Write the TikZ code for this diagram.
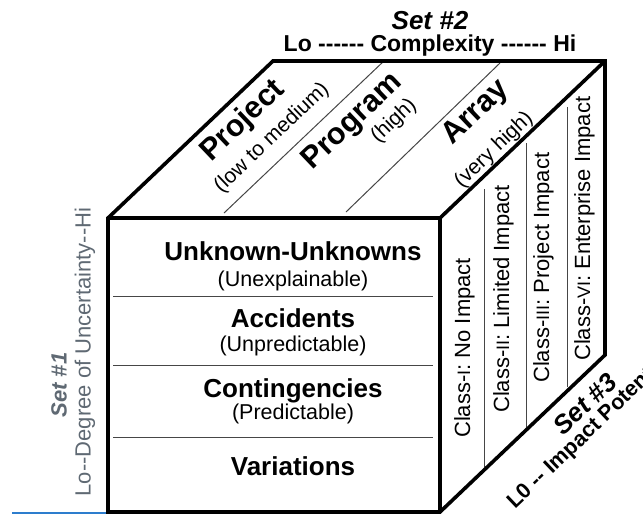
\documentclass[tikz,border=0pt]{standalone}
\usepackage{fontspec}
\setmainfont{Liberation Sans}
\definecolor{setgray}{RGB}{95,105,115}
\definecolor{rulegray}{RGB}{70,70,70}
\definecolor{underblue}{RGB}{45,125,205}
% smaller roman numerals inside the class labels
\newcommand\rnum[1]{{\fontsize{18}{18}\selectfont #1}}
\begin{document}
\begin{tikzpicture}[x=1pt,y=-1pt,
  edge/.style={line width=3.6pt, line join=miter},
  divline/.style={line width=1pt, draw=rulegray},
  headtxt/.style={font=\fontsize{26}{30}\selectfont\bfseries, inner sep=0pt},
  subtxt/.style={font=\fontsize{21.5}{26}\selectfont, inner sep=0pt},
  toptxt/.style={font=\fontsize{30.5}{34}\selectfont\bfseries, rotate=43.6, inner sep=0pt},
  topsub/.style={font=\fontsize{21}{26}\selectfont, rotate=43.6, inner sep=0pt},
  classtxt/.style={font=\fontsize{22}{26}\selectfont, rotate=90, anchor=base west, inner sep=0pt},
  settxt/.style={font=\fontsize{26}{30}\selectfont\bfseries\itshape, inner sep=0pt}
]
\useasboundingbox (0,0) rectangle (643,515);
\clip (0,0) rectangle (643,515);

% underline at the lower left
\draw[underblue, line width=2.5pt] (12,513) -- (107,513);

% cube corners
\coordinate (ftl) at (108,218);
\coordinate (ftr) at (440,218);
\coordinate (fbl) at (108,512);
\coordinate (fbr) at (440,512);
\coordinate (btl) at (273,61);
\coordinate (btr) at (605,61);
\coordinate (bbr) at (605,355);

% front face dividers
\draw[divline] (113,296) -- (433,296);
\draw[divline] (113,365) -- (433,365);
\draw[divline] (113,437) -- (433,437);

% top face dividers
\draw[divline] (224,213) -- (385,60);
\draw[divline] (346,212) -- (500,63);

% side face dividers
\draw[divline] (484,189) -- (484,467);
\draw[divline] (526,143) -- (526,427);
\draw[divline] (567,107) -- (567,387);

% cube outline
\draw[edge] (ftl) -- (btl) -- (btr) -- (bbr) -- (fbr) -- (fbl) -- cycle;
\draw[edge] (ftl) -- (ftr) -- (btr);
\draw[edge] (ftr) -- (fbr);

% front face: uncertainty levels
\node[headtxt, anchor=base] (uu)   at (293,260) {Unknown-Unknowns};
\node[subtxt,  anchor=base] (uuS)  at (293,286) {(Unexplainable)};
\node[headtxt, anchor=base] (acc)  at (293,327) {Accidents};
\node[subtxt,  anchor=base] (accS) at (293,351) {(Unpredictable)};
\node[headtxt, anchor=base] (con)  at (293,397) {Contingencies};
\node[subtxt,  anchor=base] (conS) at (293,419) {(Predictable)};
\node[headtxt, anchor=base] (var)  at (293,475) {Variations};

% top face: complexity levels
\node[toptxt] (proj)  at (243,121) {Project};
\node[topsub] (projS) at (272,138) {(low to medium)};
\node[toptxt] (prog)  at (353,122) {Program};
\node[topsub] (progS) at (394,121) {(high)};
\node[toptxt] (arr)   at (476,113) {Array};
\node[topsub] (arrS)  at (494,150) {(very high)};

% side face: impact classes
\node[classtxt] (c1) at (470,438) {Class-\rnum{I}: No Impact};
\node[classtxt] (c2) at (509,413) {Class-\rnum{II}: Limited Impact};
\node[classtxt] (c3) at (549,383) {Class-\rnum{III}: Project Impact};
\node[classtxt] (c4) at (590,361) {Class-\rnum{VI}: Enterprise Impact};

% set captions
\node[settxt] (s2) at (430,21) {Set \#2};
\node[font=\fontsize{23}{26}\selectfont\bfseries, inner sep=0pt] (s2t) at (430,46)
  {Lo -{}-{}-{}-{}-{}- Complexity -{}-{}-{}-{}-{}- Hi};

\node[settxt, font=\fontsize{22}{26}\selectfont\bfseries\itshape, text=setgray, rotate=90] (s1) at (59,385) {Set \#1};
\node[font=\fontsize{22}{26}\selectfont, text=setgray, rotate=90, inner sep=0pt] (s1t) at (85,352)
  {Lo-{}-Degree of Uncertainty-{}-Hi};

\node[settxt, rotate=43.6] (s3) at (585,404) {Set \#3};
\node[font=\fontsize{21.5}{24}\selectfont\bfseries, rotate=43.6, anchor=base west, inner sep=0pt] (s3t) at (515,510)
  {L0 -{}- Impact Potential};
\end{tikzpicture}
\end{document}
